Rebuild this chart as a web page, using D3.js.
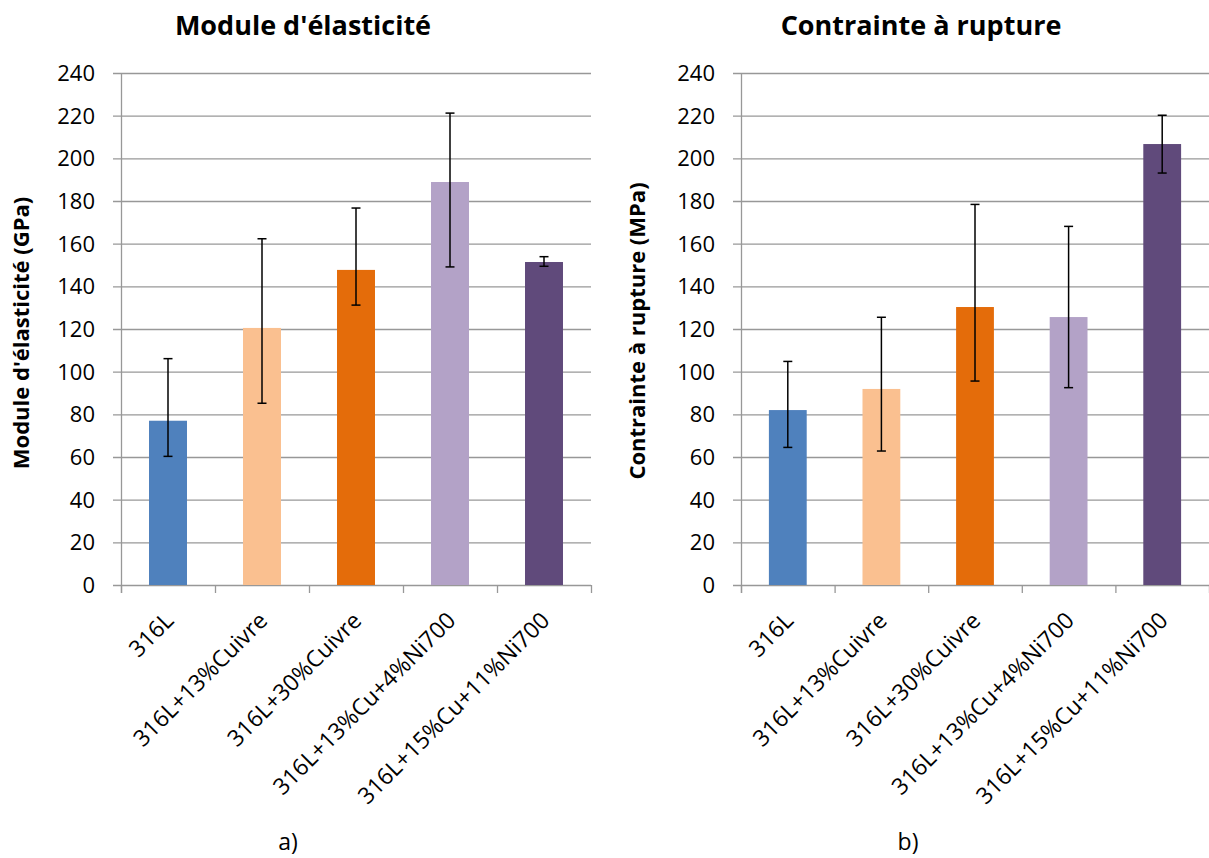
<!DOCTYPE html>
<html><head><meta charset="utf-8">
<script src="https://cdn.jsdelivr.net/npm/d3@7"></script>
<style>html,body{margin:0;padding:0;background:#fff;}svg{display:block;}</style>
</head><body>
<svg id="chart" width="1209" height="858"></svg>
<script>
const categories = ["316L","316L+13%Cuivre","316L+30%Cuivre","316L+13%Cu+4%Ni700","316L+15%Cu+11%Ni700"];
const colors = ["#4f81bd","#fac090","#e46c0a","#b3a2c7","#604a7b"];
const yTicks = [0,20,40,60,80,100,120,140,160,180,200,220,240];

// Panel a) Module d'élasticité (GPa)
const moduleValues = [77, 120.5, 147.7, 188.9, 151.4];
const moduleErrHigh = [106.1, 162.3, 176.7, 221.2, 153.9];
const moduleErrLow  = [60.3, 85.2, 131.2, 149.1, 149.4];

// Panel b) Contrainte à rupture (MPa)
const ruptureValues = [82.0, 91.9, 130.3, 125.6, 206.7];
const ruptureErrHigh = [104.8, 125.5, 178.4, 168.1, 220.2];
const ruptureErrLow  = [64.5, 62.8, 95.6, 92.5, 193.1];

const panels = [
  {title:"Module d'élasticité", ytitle:"Module d'élasticité (GPa)", letter:"a)", values:moduleValues, hi:moduleErrHigh, lo:moduleErrLow,
   x0:121, x1:591, titleX:303, ytitleX:29, ytitleY:333, letterX:288},
  {title:"Contrainte à rupture", ytitle:"Contrainte à rupture (MPa)", letter:"b)", values:ruptureValues, hi:ruptureErrHigh, lo:ruptureErrLow,
   x0:741, x1:1209, titleX:921, ytitleX:645, ytitleY:331, letterX:908}
];

const svg = d3.select("#chart");
const FONT = "'Open Sans', sans-serif";
const yTop = 73, yBot = 585;
const gridColor = "#989898";

panels.forEach(p => {
  const g = svg.append("g");
  const x = d3.scaleBand().domain(categories).range([p.x0, p.x1]).paddingInner(0.596).paddingOuter(0.298);
  const xc = d3.scaleBand().domain(categories).range([p.x0, p.x1]).padding(0);
  const y = d3.scaleLinear().domain([0,240]).range([yBot, yTop]);

  // gridlines
  g.append("g").selectAll("line").data(yTicks).join("line")
    .attr("x1", p.x0 - 8).attr("x2", p.x1).attr("y1", d=>y(d)+0.5).attr("y2", d=>y(d)+0.5)
    .attr("stroke", gridColor).attr("stroke-width", 1.3);

  // y axis line
  g.append("line").attr("x1", p.x0+0.5).attr("x2", p.x0+0.5).attr("y1", yTop).attr("y2", yBot+8)
    .attr("stroke", gridColor).attr("stroke-width", 1.3);

  // category ticks
  const tickXs = categories.map(c => xc(c)).concat([p.x1]);
  g.append("g").selectAll("line").data(tickXs).join("line")
    .attr("x1", d=>d+0.5).attr("x2", d=>d+0.5).attr("y1", yBot).attr("y2", yBot+8)
    .attr("stroke", gridColor).attr("stroke-width", 1.3);

  // y tick labels
  g.append("g").selectAll("text").data(yTicks).join("text")
    .attr("x", p.x0 - 26).attr("y", d=>y(d)).attr("dy","0.36em")
    .attr("text-anchor","end").attr("font-family",FONT).attr("font-size",22).attr("fill","#000")
    .text(d=>d);

  // bars
  g.append("g").selectAll("rect").data(p.values).join("rect")
    .attr("x",(d,i)=>x(categories[i])).attr("width",x.bandwidth())
    .attr("y",d=>y(d)).attr("height",d=>yBot - y(d))
    .attr("fill",(d,i)=>colors[i]);

  // error bars
  const eg = g.append("g").attr("stroke","#000").attr("stroke-width",1.5);
  p.values.forEach((v,i)=>{
    const cx = x(categories[i]) + x.bandwidth()/2;
    eg.append("line").attr("x1",cx).attr("x2",cx).attr("y1",y(p.hi[i])).attr("y2",y(p.lo[i]));
    eg.append("line").attr("x1",cx-4.5).attr("x2",cx+4.5).attr("y1",y(p.hi[i])).attr("y2",y(p.hi[i]));
    eg.append("line").attr("x1",cx-4.5).attr("x2",cx+4.5).attr("y1",y(p.lo[i])).attr("y2",y(p.lo[i]));
  });

  // x labels
  g.append("g").selectAll("text").data(categories).join("text")
    .attr("transform", c => `translate(${xc(c)+xc.bandwidth()/2+7},${yBot+37}) rotate(-45)`)
    .attr("text-anchor","end").attr("font-family",FONT).attr("font-size",23).attr("fill","#000")
    .text(c=>c);

  // title
  g.append("text").attr("x",p.titleX).attr("y",35).attr("text-anchor","middle")
    .attr("font-family",FONT).attr("font-weight","bold").attr("font-size",27).text(p.title);

  // y title
  g.append("text").attr("transform",`translate(${p.ytitleX},${p.ytitleY}) rotate(-90)`)
    .attr("text-anchor","middle").attr("font-family",FONT).attr("font-weight","bold").attr("font-size",22).text(p.ytitle);

  // letter
  g.append("text").attr("x",p.letterX).attr("y",850).attr("text-anchor","middle")
    .attr("font-family",FONT).attr("font-size",23).text(p.letter);
});
</script>
</body></html>
